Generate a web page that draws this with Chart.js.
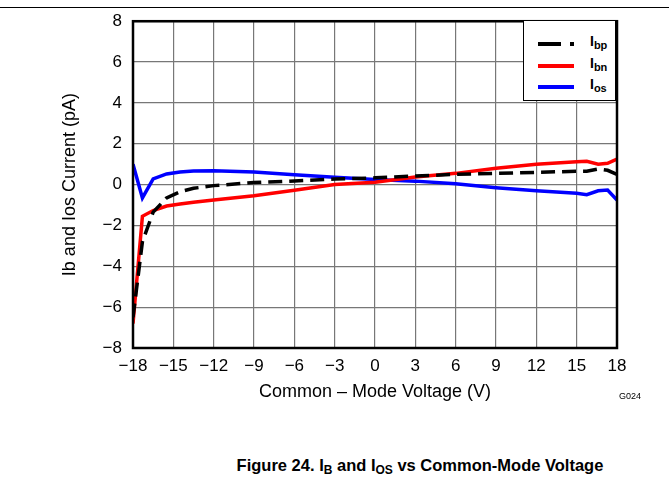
<!DOCTYPE html>
<html>
<head>
<meta charset="utf-8">
<script src="https://cdn.jsdelivr.net/npm/chart.js@4.4.1/dist/chart.umd.min.js"></script>
<style>
  body { margin: 0; background: #fff; font-family: "Liberation Sans", Arial, sans-serif; }
  #page { position: relative; width: 669px; height: 481px; overflow: hidden; }
  #topline { position: absolute; left: 0; top: 7px; width: 669px; height: 0; border-top: 1px solid #000; }
  #chart { position: absolute; left: 0; top: 0; }
  #legend { position: absolute; left: 523px; top: 20px; width: 93px; height: 81px; background: #fff;
            border: 1.5px solid #000; box-sizing: border-box; }
  .item { position: absolute; left: 14px; height: 20px; width: 80px; }
  .mark { position: absolute; left: 0; top: 9px; height: 4px; }
  .label { position: absolute; left: 52px; top: 0; font-weight: bold; font-size: 14px; color: #000; }
  .label sub { font-size: 11px; vertical-align: -3px; }
  #gcode { position: absolute; left: 619px; top: 391px; font-size: 9px; color: #000; }
  #caption { position: absolute; left: 0; width: 840px; top: 456px; text-align: center; font-weight: bold; font-size: 16.5px; }
  #caption sub { font-size: 12px; vertical-align: -3px; }
</style>
</head>
<body>
<div id="page">
  <div id="topline"></div>
  <canvas id="chart" width="669" height="410"></canvas>
  <div id="legend"></div>
  <div id="gcode">G024</div>
  <div id="caption">Figure 24. I<sub>B</sub> and I<sub>OS</sub> vs Common-Mode Voltage</div>
</div>
<script>
// Common-mode voltage (V)
const voltage = [-18, -17.3, -16.5, -15.5, -14.5, -13.5, -12, -9, -6, -3, 0, 3, 6, 9, 12, 15, 15.75, 16.6, 17.3, 18];
// Currents (pA)
const ibp = [-6.5, -2.8, -1.35, -0.65, -0.35, -0.18, -0.05, 0.1, 0.18, 0.27, 0.33, 0.42, 0.5, 0.55, 0.6, 0.65, 0.65, 0.76, 0.7, 0.5];
const ibn = [-6.8, -1.55, -1.27, -1.05, -0.95, -0.86, -0.75, -0.55, -0.28, 0.0, 0.12, 0.37, 0.55, 0.8, 1.0, 1.12, 1.14, 1.0, 1.04, 1.25];
const ios = [1.0, -0.65, 0.28, 0.52, 0.62, 0.67, 0.68, 0.62, 0.48, 0.36, 0.25, 0.17, 0.04, -0.15, -0.3, -0.42, -0.49, -0.3, -0.27, -0.75];

const seriesNames = ['bp', 'bn', 'os'];
const seriesColors = ['#000000', '#ff0000', '#0000ff'];

const xTicks = [-18, -15, -12, -9, -6, -3, 0, 3, 6, 9, 12, 15, 18];
const yTicks = [-8, -6, -4, -2, 0, 2, 4, 6, 8];

function toPoints(values) {
  return voltage.map((v, i) => ({ x: v, y: values[i] }));
}

function minusSign(v) {
  return String(v).replace('-', '\u2212');
}

// Draws the full frame around the plot area
const framePlugin = {
  id: 'frame',
  afterDatasetsDraw(chart) {
    const { ctx, chartArea } = chart;
    ctx.save();
    ctx.strokeStyle = '#000';
    ctx.lineWidth = 2.5;
    ctx.strokeRect(chartArea.left, chartArea.top, chartArea.right - chartArea.left, chartArea.bottom - chartArea.top);
    ctx.restore();
  },
};

const tickFont = { family: '"Liberation Sans", Arial, sans-serif', size: 17 };
const titleFont = { family: '"Liberation Sans", Arial, sans-serif', size: 18 };

const chart = new Chart(document.getElementById('chart'), {
  type: 'line',
  data: {
    datasets: [
      {
        label: 'bp',
        data: toPoints(ibp),
        borderColor: seriesColors[0],
        borderWidth: 3.5,
        borderDash: [14, 7],
        pointRadius: 0,
        tension: 0,
      },
      {
        label: 'bn',
        data: toPoints(ibn),
        borderColor: seriesColors[1],
        borderWidth: 3.5,
        pointRadius: 0,
        tension: 0,
      },
      {
        label: 'os',
        data: toPoints(ios),
        borderColor: seriesColors[2],
        borderWidth: 3.5,
        pointRadius: 0,
        tension: 0,
      },
    ],
  },
  options: {
    responsive: false,
    animation: false,
    layout: { padding: { left: 0, top: 20, right: 52, bottom: 0 } },
    plugins: {
      legend: { display: false },
      tooltip: { enabled: false },
    },
    scales: {
      x: {
        type: 'linear',
        min: -18,
        max: 18,
        afterBuildTicks: (scale) => {
          scale.ticks = xTicks.map((v) => ({ value: v }));
        },
        afterFit: (scale) => {
          scale.height = 62;
        },
        ticks: {
          color: '#000',
          font: tickFont,
          padding: 8,
          maxRotation: 0,
          autoSkip: false,
          callback: (v) => minusSign(v),
        },
        grid: { color: '#777', lineWidth: 1.2, drawTicks: false },
        border: { display: false },
        title: {
          display: true,
          text: 'Common \u2013 Mode Voltage (V)',
          color: '#000',
          font: titleFont,
          padding: { top: 0, bottom: 7 },
        },
      },
      y: {
        type: 'linear',
        min: -8,
        max: 8,
        afterBuildTicks: (scale) => {
          scale.ticks = yTicks.map((v) => ({ value: v }));
        },
        afterFit: (scale) => {
          scale.width = 133;
        },
        ticks: {
          color: '#000',
          font: tickFont,
          padding: 11,
          callback: (v) => minusSign(v),
        },
        grid: { color: '#777', lineWidth: 1.2, drawTicks: false },
        border: { display: false },
        title: {
          display: true,
          text: 'Ib and Ios Current (pA)',
          color: '#000',
          font: titleFont,
          padding: { top: 59, bottom: 0 },
        },
      },
    },
  },
  plugins: [framePlugin],
});

// HTML legend with subscripts
const legendEl = document.getElementById('legend');
chart.data.datasets.forEach((ds, i) => {
  const item = document.createElement('div');
  item.className = 'item';
  item.style.top = (12 + i * 21.5) + 'px';
  let mark;
  if (ds.borderDash) {
    mark = '<span class="mark" style="width:23px;background:' + ds.borderColor + '"></span>' +
           '<span class="mark" style="left:32px;width:4px;background:' + ds.borderColor + '"></span>';
  } else {
    mark = '<span class="mark" style="width:36px;background:' + ds.borderColor + '"></span>';
  }
  item.innerHTML = mark + '<span class="label">I<sub>' + seriesNames[i] + '</sub></span>';
  legendEl.appendChild(item);
});
</script>
</body>
</html>
